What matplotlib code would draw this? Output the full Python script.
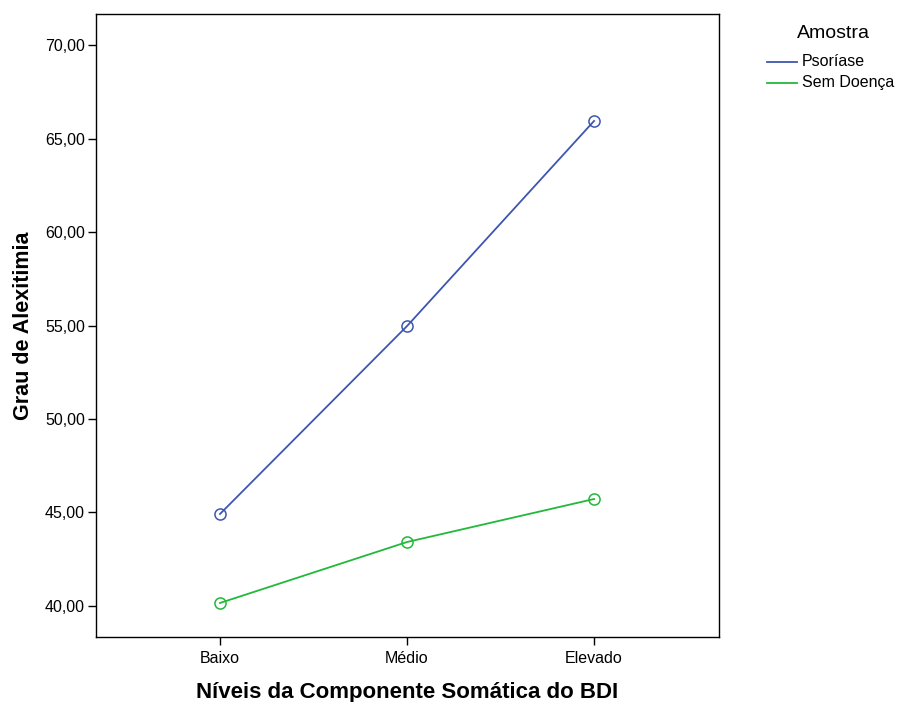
import matplotlib
matplotlib.use("Agg")
import matplotlib.pyplot as plt
from matplotlib.lines import Line2D

plt.rcParams['font.family'] = ['Liberation Sans', 'DejaVu Sans']

categories = ["Baixo", "Médio", "Elevado"]
psoriase = [44.92, 54.97, 65.94]
sem_doenca = [40.16, 43.42, 45.72]
yticks = [40, 45, 50, 55, 60, 65, 70]
series_names = ["Psoríase", "Sem Doença"]
colors = ['#3e56b0', '#22b83a']

W, H = 901, 702
fig = plt.figure(figsize=(W/100, H/100), dpi=100)
ax = fig.add_axes([96/W, 65/H, (719-96)/W, (637-14)/H])

x = list(range(len(categories)))
for vals, c, name in zip([psoriase, sem_doenca], colors, series_names):
    ax.plot(x, vals, color=c, lw=1.3, marker='o', ms=8,
            mfc='none', mec=c, mew=1.1, label=name)

ax.set_xlim(-0.663, 2.668)
ax.set_ylim(38.34, 71.66)
ax.set_xticks(x)
ax.set_xticklabels(categories, fontsize=11.5)
ax.set_yticks(yticks)
ax.set_yticklabels([f"{v:.2f}".replace('.', ',') for v in yticks], fontsize=11.5)
ax.tick_params(axis='y', direction='out', length=6, width=1, pad=2)
ax.tick_params(axis='x', direction='out', length=6, width=1, pad=4)
for s in ax.spines.values():
    s.set_linewidth(1.0)
    s.set_color('black')

ax.set_xlabel("Níveis da Componente Somática do BDI", fontsize=16, fontweight='bold')
ax.xaxis.set_label_coords(0.5, -0.0725)
ax.set_ylabel("Grau de Alexitimia", fontsize=15.5, fontweight='bold')
ax.yaxis.set_label_coords(-0.1, 0.5)

# legend (outside, right)
fig.text(833/W, 1 - 33/H, "Amostra", fontsize=14, ha='center', va='center')
for i, (c, name) in enumerate(zip(colors, series_names)):
    yy = 1 - (62 + 21*i)/H
    fig.add_artist(Line2D([767/W, 797/W], [yy, yy], color=c, lw=1.3,
                          transform=fig.transFigure))
    fig.text(802/W, yy, name, fontsize=11.5, ha='left', va='center')

fig.savefig("out.png", dpi=100)
